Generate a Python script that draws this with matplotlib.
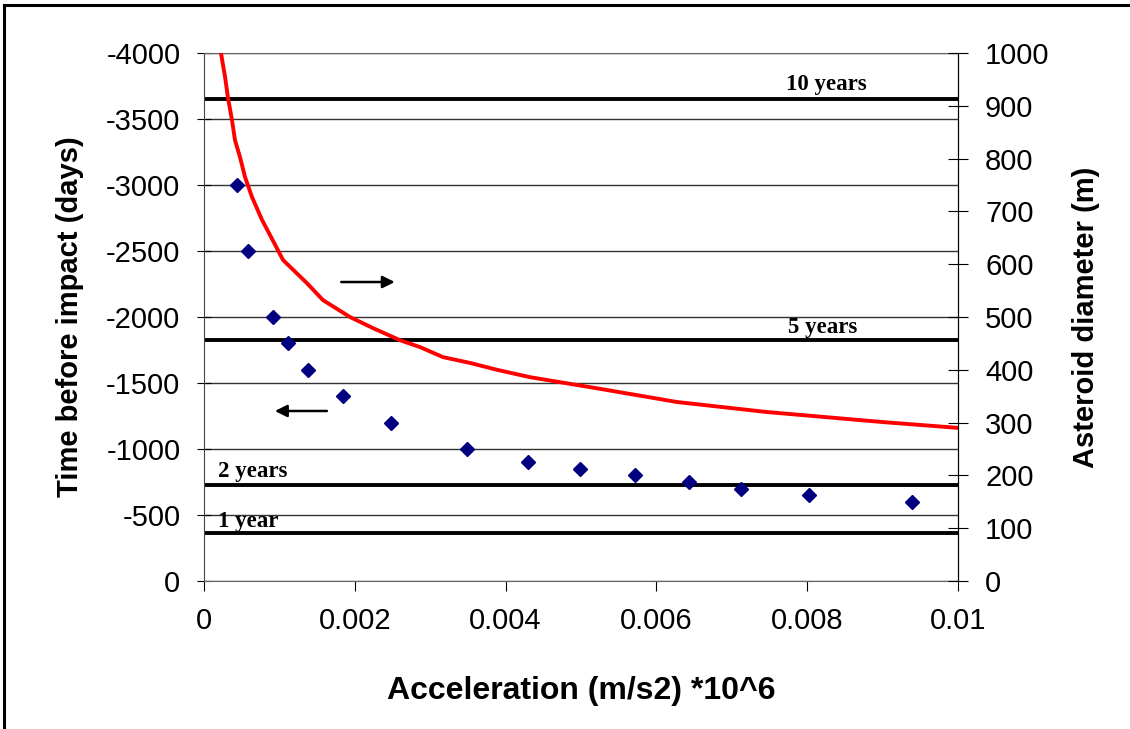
"""Asteroid deflection: time before impact vs required acceleration."""
import matplotlib
matplotlib.use('Agg')
import matplotlib.pyplot as plt
from matplotlib.lines import Line2D
from matplotlib.ticker import FuncFormatter

# scatter: acceleration needed vs warning time (left axis)
accel_pts = [0.00044, 0.00058, 0.00092, 0.00111, 0.00138, 0.00184, 0.00248,
             0.00349, 0.0043, 0.00499, 0.00571, 0.00643, 0.00712, 0.00802, 0.00939]
time_days = [-3000, -2500, -2000, -1800, -1600, -1400, -1200,
             -1000, -900, -850, -800, -750, -700, -650, -600]

# red curve: asteroid diameter vs acceleration (right axis)
accel_curve = [0.000225, 0.000279, 0.000318, 0.000371, 0.000411, 0.000477, 0.000544,
               0.000637, 0.000769, 0.000902, 0.001048, 0.001366, 0.001578, 0.001936,
               0.002241, 0.0026, 0.002865, 0.00317, 0.003528, 0.003886, 0.004324,
               0.005252, 0.006273, 0.007467, 0.009005, 0.01]
diameter_m = [1000, 955, 915, 873, 835, 803, 765, 727, 684, 648, 608, 564, 532, 500,
              479, 456, 443, 424, 413, 400, 386, 364, 339, 320, 301, 290]

# reference lines
year_days = [-3650, -1825, -730, -365]
year_labels = ['10 years', '5 years', '2 years', '1 year']

W, H = 1130, 729
plt.rcParams['font.family'] = 'Liberation Sans'
plt.rcParams['axes.unicode_minus'] = False
fig = plt.figure(figsize=(W / 100, H / 100), dpi=100)

# outer frame: only the left and top edges are inside the picture
fig.lines.append(Line2D([4 / W, 4 / W], [0, 1 - 5 / H], transform=fig.transFigure,
                        color='black', linewidth=2.2))
fig.lines.append(Line2D([4 / W, 1], [1 - 5 / H, 1 - 5 / H], transform=fig.transFigure,
                        color='black', linewidth=2.2))

ax = fig.add_axes([204 / W, (H - 581) / H, 754 / W, 528 / H])
ax.set_xlim(0, 0.01)
ax.set_ylim(0, -4000)
ax.set_yticks(range(0, -4001, -500))
ax.set_xticks([0, 0.002, 0.004, 0.006, 0.008, 0.01])
ax.xaxis.set_major_formatter(FuncFormatter(lambda v, p: '0' if v == 0 else f'{v:g}'))
ax.grid(axis='y', color='#333333', linewidth=1.0)
ax.set_axisbelow(True)
for s in ['top', 'bottom']:
    ax.spines[s].set_color('#666666')
ax.spines['left'].set_color('#444444')
ax.spines['right'].set_color('black')
ax.tick_params(axis='y', direction='inout', length=10, width=0.8, pad=12, labelsize=21)
ax.tick_params(axis='x', direction='out', length=7, width=0.8, pad=12, labelsize=21)

for d in year_days:
    ax.axhline(d, color='black', linewidth=2.8, zorder=2)

ax.plot(accel_pts, time_days, linestyle='none', marker='D', markersize=7,
        color='#000080', zorder=4)

tfont = dict(family='Liberation Serif', fontweight='bold', fontsize=16.5, va='baseline')
ax.text(0.00825, -3720, year_labels[0], ha='center', **tfont)
ax.text(0.00820, -1879, year_labels[1], ha='center', **tfont)
ax.text(0.00019, -788, year_labels[2], ha='left', **tfont)
ax.text(0.00019, -409, year_labels[3], ha='left', **tfont)

# arrows pointing to the relevant axis
arrow = dict(arrowstyle='-|>', color='black', lw=1.8, mutation_scale=18,
             shrinkA=0, shrinkB=0)
ax.annotate('', xy=(0.00253, -2265), xytext=(0.00182, -2265), arrowprops=arrow)
ax.annotate('', xy=(0.00094, -1288), xytext=(0.00163, -1288), arrowprops=arrow)

ax.set_xlabel('Acceleration (m/s2) *10^6', fontsize=23, fontweight='bold', labelpad=29)
ax.set_ylabel('Time before impact (days)', fontsize=21, fontweight='bold', labelpad=16)

ax2 = ax.twinx()
ax2.set_ylim(0, 1000)
ax2.set_yticks(range(0, 1001, 100))
ax2.plot(accel_curve, diameter_m, color='#ff0000', linewidth=2.8, zorder=3)
ax2.tick_params(axis='y', direction='inout', length=15, width=0.8, pad=12, labelsize=21)
for s in ['top', 'bottom', 'left']:
    ax2.spines[s].set_visible(False)
ax2.spines['right'].set_color('black')
ax2.set_ylabel('Asteroid diameter (m)', fontsize=21, fontweight='bold', labelpad=16)

plt.savefig('out.png', dpi=100)
